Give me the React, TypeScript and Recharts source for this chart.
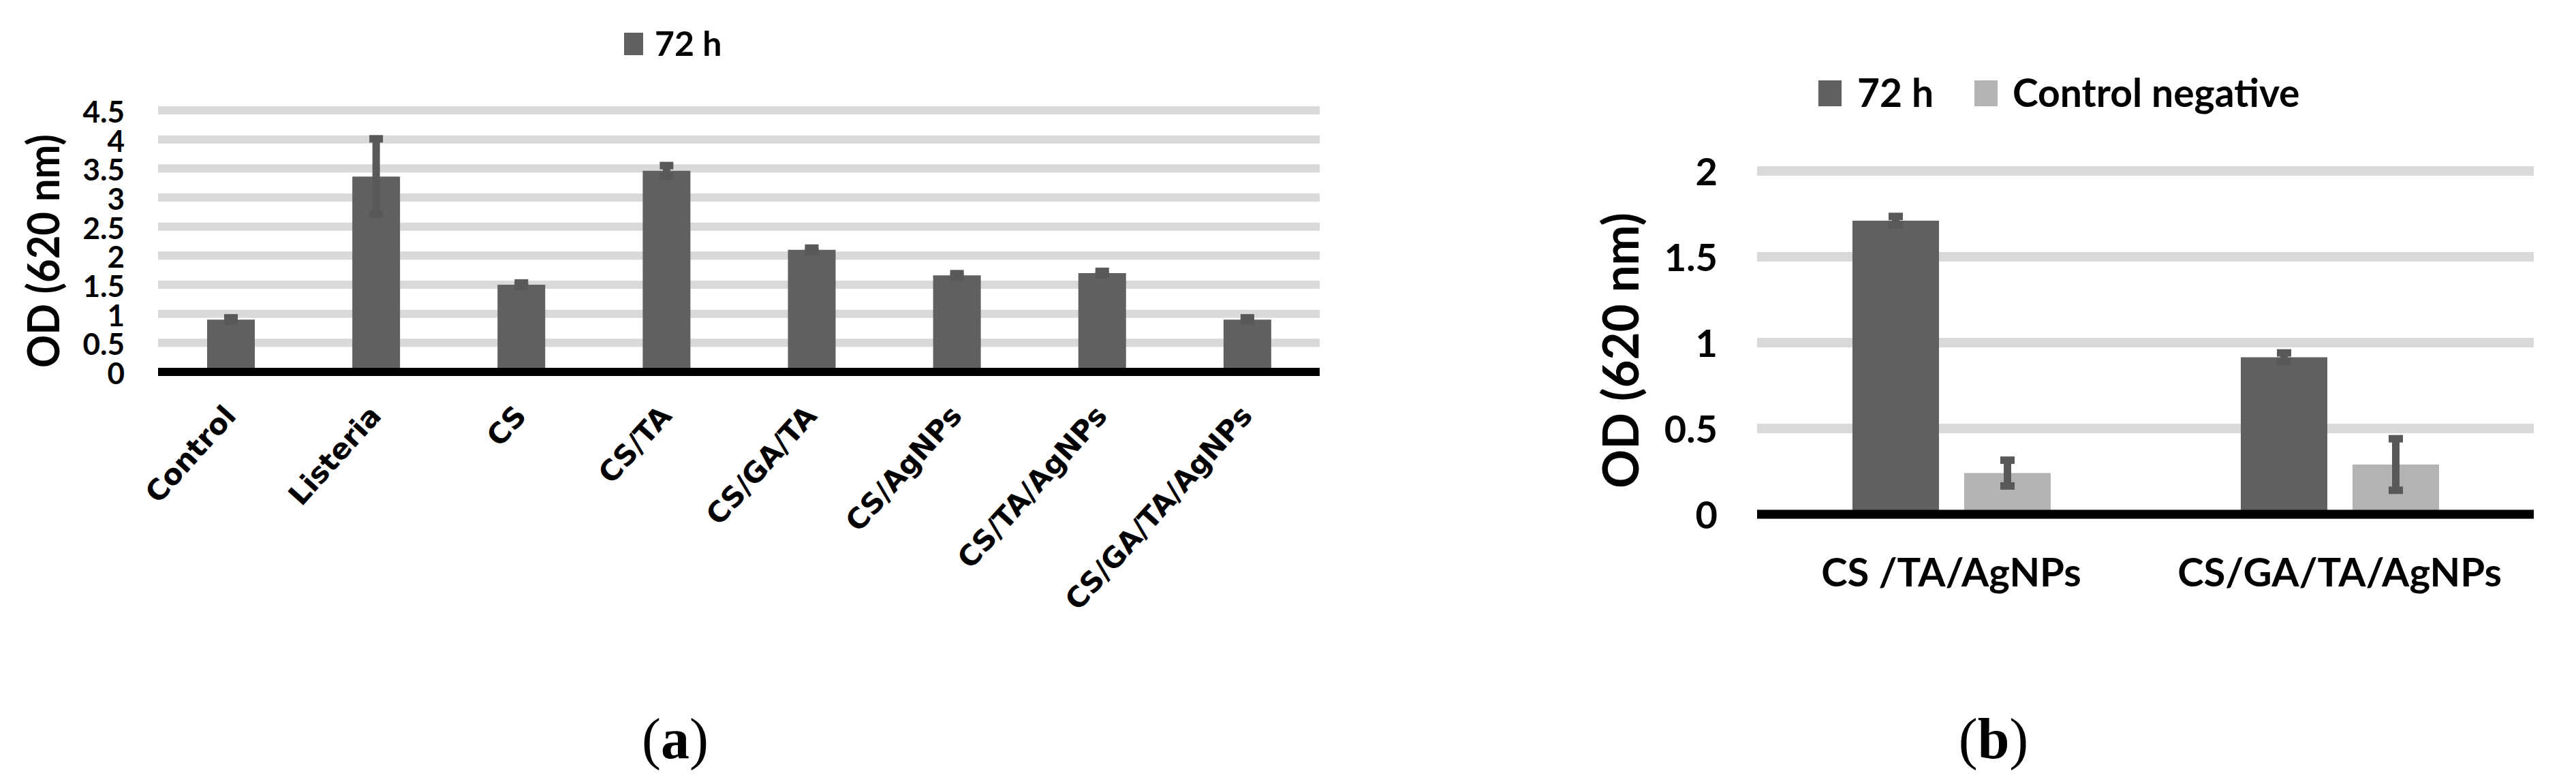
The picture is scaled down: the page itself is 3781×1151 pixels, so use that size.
import React from "react";
import { BarChart, Bar, XAxis, YAxis, CartesianGrid, ErrorBar } from "recharts";

// panel (a)
const categoriesA = [
  "Control",
  "Listeria",
  "CS",
  "CS/TA",
  "CS/GA/TA",
  "CS/AgNPs",
  "CS/TA/AgNPs",
  "CS/GA/TA/AgNPs",
];
const od72A = [0.9, 3.36, 1.5, 3.46, 2.1, 1.66, 1.7, 0.9];
const err72A = [0.03, 0.65, 0.03, 0.09, 0.03, 0.03, 0.03, 0.03];
const ticksA = [0, 0.5, 1, 1.5, 2, 2.5, 3, 3.5, 4, 4.5];

// panel (b)
const groupsB = ["CS /TA/AgNPs", "CS/GA/TA/AgNPs"];
const od72B = [1.71, 0.915];
const err72B = [0.025, 0.025];
const ctrlNegB = [0.24, 0.29];
const errCtrlNegB = [0.075, 0.15];
const ticksB = [0, 0.5, 1, 1.5, 2];

const DARK = "#606060";
const LIGHT = "#b3b3b3";
const GRID = "#d9d9d9";
const ERR = "#595959";
const SANS = "Lato, 'Open Sans', sans-serif";
const WIDE = "'DejaVu Sans', Verdana, sans-serif";

const dataA = categoriesA.map((name, i) => ({ name, h72: od72A[i], err: err72A[i] }));
const dataB = groupsB.map((name, i) => ({
  name,
  h72: od72B[i],
  err72: err72B[i],
  neg: ctrlNegB[i],
  errNeg: errCtrlNegB[i],
}));

function YTickA({ x, y, payload }: any) {
  return (
    <text x={x - 49} y={y + 18} textAnchor="end" fontFamily={SANS} fontWeight={700} fontSize={44} fill="#000">
      {payload.value}
    </text>
  );
}

function XTickA({ x, y, payload }: any) {
  return (
    <text
      transform={`translate(${x + 10},${y + 66}) rotate(-48)`}
      textAnchor="end"
      fontFamily={WIDE}
      fontWeight={700}
      fontSize={42}
      fill="#000"
    >
      {payload.value}
    </text>
  );
}

function YTickB({ x, y, payload }: any) {
  return (
    <text x={x - 58} y={y + 21} textAnchor="end" fontFamily={SANS} fontWeight={700} fontSize={56} fill="#000">
      {payload.value}
    </text>
  );
}

function XTickB({ x, y, payload }: any) {
  return (
    <text x={x} y={y + 106} textAnchor="middle" fontFamily={SANS} fontWeight={700} fontSize={58} fill="#000">
      {payload.value}
    </text>
  );
}

export default function App() {
  return (
    <div style={{ position: "absolute", left: 0, top: 0, width: 3781, height: 1151, background: "#fff", overflow: "hidden" }}>
      <div style={{ position: "absolute", left: 0, top: 0 }}>
        <BarChart width={1960} height={950} data={dataA} margin={{ top: 162, right: 23, bottom: 24, left: 132 }} barSize={70}>
          <CartesianGrid vertical={false} stroke={GRID} strokeWidth={12} />
          <XAxis
            dataKey="name"
            interval={0}
            height={380}
            tickSize={0}
            tickMargin={0}
            tickLine={false}
            axisLine={{ stroke: "#000", strokeWidth: 12 }}
            tick={<XTickA />}
          />
          <YAxis
            domain={[0, 4.5]}
            ticks={ticksA}
            width={100}
            tickSize={0}
            tickMargin={0}
            tickLine={false}
            axisLine={false}
            tick={<YTickA />}
          />
          <Bar dataKey="h72" fill={DARK} isAnimationActive={false}>
            <ErrorBar dataKey="err" width={10} strokeWidth={11} stroke={ERR} isAnimationActive={false} />
          </Bar>
        </BarChart>
      </div>

      <div style={{ position: "absolute", left: 2330, top: 0 }}>
        <BarChart
          width={1420}
          height={950}
          data={dataB}
          margin={{ top: 251, right: 31, bottom: 25, left: 149 }}
          barSize={127}
          barGap={37}
        >
          <CartesianGrid vertical={false} stroke={GRID} strokeWidth={14} />
          <XAxis
            dataKey="name"
            interval={0}
            height={170}
            tickSize={0}
            tickMargin={0}
            tickLine={false}
            axisLine={{ stroke: "#000", strokeWidth: 13 }}
            tick={<XTickB />}
          />
          <YAxis
            domain={[0, 2]}
            ticks={ticksB}
            width={100}
            tickSize={0}
            tickMargin={0}
            tickLine={false}
            axisLine={false}
            tick={<YTickB />}
          />
          <Bar dataKey="h72" fill={DARK} isAnimationActive={false}>
            <ErrorBar dataKey="err72" width={10.5} strokeWidth={11} stroke={ERR} isAnimationActive={false} />
          </Bar>
          <Bar dataKey="neg" fill={LIGHT} isAnimationActive={false}>
            <ErrorBar dataKey="errNeg" width={10.5} strokeWidth={11} stroke={ERR} isAnimationActive={false} />
          </Bar>
        </BarChart>
      </div>

      <svg width={3781} height={1151} style={{ position: "absolute", left: 0, top: 0, pointerEvents: "none" }}>
        {/* legend (a) */}
        <rect x={916} y={48} width={28} height={33} fill={DARK} />
        <text x={961} y={82} fontFamily={SANS} fontWeight={700} fontSize={50} fill="#000">
          72 h
        </text>
        {/* legend (b) */}
        <rect x={2669} y={118} width={34} height={38} fill={DARK} />
        <text x={2726} y={157} fontFamily={SANS} fontWeight={700} fontSize={57} fill="#000">
          72 h
        </text>
        <rect x={2898} y={118} width={34} height={38} fill={LIGHT} />
        <text x={2954} y={157} fontFamily={SANS} fontWeight={700} fontSize={57} fill="#000">
          Control negative
        </text>
        {/* axis titles */}
        <text
          transform="translate(87,368.5) rotate(-90)"
          textAnchor="middle"
          fontFamily={SANS}
          fontWeight={700}
          fontSize={65}
          textLength={343}
          lengthAdjust="spacingAndGlyphs"
          fill="#000"
        >
          OD (620 nm)
        </text>
        <text
          transform="translate(2405,514.5) rotate(-90)"
          textAnchor="middle"
          fontFamily={SANS}
          fontWeight={700}
          fontSize={73}
          textLength={405}
          lengthAdjust="spacingAndGlyphs"
          fill="#000"
        >
          OD (620 nm)
        </text>
        {/* panel captions */}
        <text x={991} y={1113} textAnchor="middle" fontFamily="'Liberation Serif', serif" fontSize={84} fill="#000">
          (<tspan fontWeight={700}>a</tspan>)
        </text>
        <text x={2926} y={1113} textAnchor="middle" fontFamily="'Liberation Serif', serif" fontSize={84} fill="#000">
          (<tspan fontWeight={700}>b</tspan>)
        </text>
      </svg>
    </div>
  );
}
